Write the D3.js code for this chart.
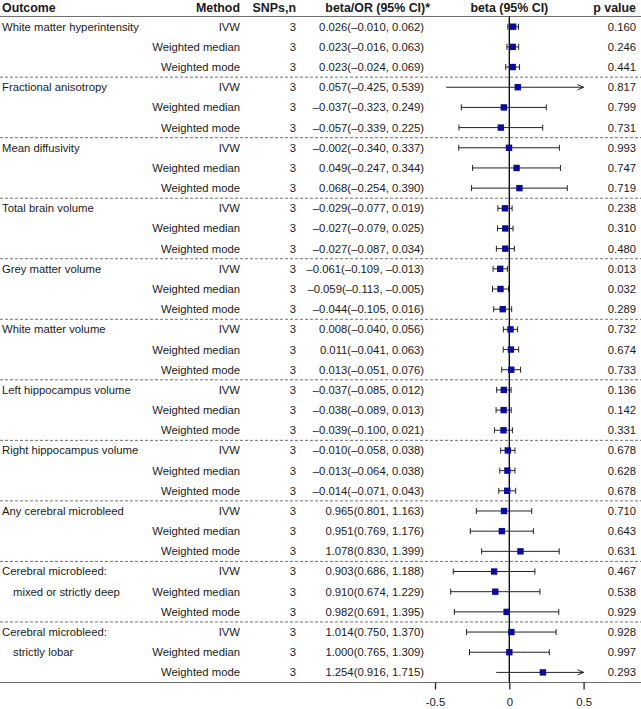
<!DOCTYPE html>
<html><head><meta charset="utf-8">
<script src="https://cdn.jsdelivr.net/npm/d3@7"></script>
<style>
html,body{margin:0;padding:0;background:#fff;}
svg{display:block;font-family:"Liberation Sans",Arial,sans-serif;}
</style>
</head><body>
<svg id="chart" width="641" height="709"></svg>
<script>
// ---- data ----
const outcomes = [
  ["White matter hyperintensity"],
  ["Fractional anisotropy"],
  ["Mean diffusivity"],
  ["Total brain volume"],
  ["Grey matter volume"],
  ["White matter volume"],
  ["Left hippocampus volume"],
  ["Right hippocampus volume"],
  ["Any cerebral microbleed"],
  ["Cerebral microbleed:", "mixed or strictly deep"],
  ["Cerebral microbleed:", "strictly lobar"]
];
const isOR = [false,false,false,false,false,false,false,false,true,true,true];
const methods = ["IVW", "Weighted median", "Weighted mode"];
const snps = [3,3,3, 3,3,3, 3,3,3, 3,3,3, 3,3,3, 3,3,3, 3,3,3, 3,3,3, 3,3,3, 3,3,3, 3,3,3];
const estimate = [0.026,0.023,0.023, 0.057,-0.037,-0.057, -0.002,0.049,0.068, -0.029,-0.027,-0.027,
  -0.061,-0.059,-0.044, 0.008,0.011,0.013, -0.037,-0.038,-0.039, -0.010,-0.013,-0.014,
  0.965,0.951,1.078, 0.903,0.910,0.982, 1.014,1.000,1.254];
const lower = [-0.010,-0.016,-0.024, -0.425,-0.323,-0.339, -0.340,-0.247,-0.254, -0.077,-0.079,-0.087,
  -0.109,-0.113,-0.105, -0.040,-0.041,-0.051, -0.085,-0.089,-0.100, -0.058,-0.064,-0.071,
  0.801,0.769,0.830, 0.686,0.674,0.691, 0.750,0.765,0.916];
const upper = [0.062,0.063,0.069, 0.539,0.249,0.225, 0.337,0.344,0.390, 0.019,0.025,0.034,
  -0.013,-0.005,0.016, 0.056,0.063,0.076, 0.012,0.013,0.021, 0.038,0.038,0.043,
  1.163,1.176,1.399, 1.188,1.229,1.395, 1.370,1.309,1.715];
const pvalues = [0.160,0.246,0.441, 0.817,0.799,0.731, 0.993,0.747,0.719, 0.238,0.310,0.480,
  0.013,0.032,0.289, 0.732,0.674,0.733, 0.136,0.142,0.331, 0.678,0.628,0.678,
  0.710,0.643,0.631, 0.467,0.538,0.929, 0.928,0.997,0.293];
const axisTicks = [-0.5, 0, 0.5];
const headers = ["Outcome","Method","SNPs,n","beta/OR (95% CI)*","beta (95% CI)","p value"];

// ---- layout ----
const W = 641, H = 709;
const svg = d3.select("#chart");
const bodyFont = 11.3, headFont = 12.4;
const x = d3.scaleLinear().domain([-0.5, 0.5]).range([435, 583.6]);
const nRows = estimate.length;
const y = d3.scaleLinear().domain([0, nRows - 1]).range([26.7, 672.4]);
const headerY = 7.5, headerLine = 16.5, bottomLine = 682.5;
const textCol = "#1a1a1a", ruleCol = "#707070";

const rows = d3.range(nRows).map(i => {
  const g = Math.floor(i / 3), m = i % 3;
  const t = isOR[g] ? Math.log : (v => v);
  return {i, g, m, est: estimate[i], lo: lower[i], hi: upper[i], p: pvalues[i], snp: snps[i],
    pe: t(estimate[i]), pl: t(lower[i]), ph: t(upper[i])};
});

// header
const hdr = svg.append("g").attr("font-weight", "bold").attr("font-size", headFont).attr("fill", textCol);
hdr.append("text").attr("x", 2).attr("y", headerY).attr("dy", "0.35em").text(headers[0]);
hdr.append("text").attr("x", 240).attr("y", headerY).attr("dy", "0.35em").attr("text-anchor", "end").text(headers[1]);
hdr.append("text").attr("x", 296).attr("y", headerY).attr("dy", "0.35em").attr("text-anchor", "end").text(headers[2]);
hdr.append("text").attr("x", 430).attr("y", headerY).attr("dy", "0.35em").attr("text-anchor", "end").text(headers[3]);
hdr.append("text").attr("x", x(0)).attr("y", headerY).attr("dy", "0.35em").attr("text-anchor", "middle").text(headers[4]);
hdr.append("text").attr("x", 636).attr("y", headerY).attr("dy", "0.35em").attr("text-anchor", "end").text(headers[5]);

// rules
svg.append("line").attr("x1", 0).attr("x2", W).attr("y1", headerLine).attr("y2", headerLine)
  .attr("stroke", ruleCol).attr("stroke-width", 1.2);
svg.append("line").attr("x1", 0).attr("x2", W).attr("y1", bottomLine).attr("y2", bottomLine)
  .attr("stroke", ruleCol).attr("stroke-width", 1.2);
for (let g = 1; g < outcomes.length; g++) {
  const yy = (y(3 * g - 1) + y(3 * g)) / 2;
  svg.append("line").attr("x1", 0).attr("x2", W).attr("y1", yy).attr("y2", yy)
    .attr("stroke", ruleCol).attr("stroke-width", 1).attr("stroke-dasharray", "3,2");
}

// text columns
const body = svg.append("g").attr("font-size", bodyFont).attr("fill", textCol);
outcomes.forEach((lines, g) => {
  lines.forEach((s, k) => {
    body.append("text").attr("x", k === 0 ? 2 : 13).attr("y", y(3 * g + k)).attr("dy", "0.35em").text(s);
  });
});
const f3 = d3.format(".3f");
const fmt = v => f3(v).replace("\u2212", "\u2013");
rows.forEach(r => {
  const yy = y(r.i);
  body.append("text").attr("x", 240).attr("y", yy).attr("dy", "0.35em").attr("text-anchor", "end").text(methods[r.m]);
  body.append("text").attr("x", 296).attr("y", yy).attr("dy", "0.35em").attr("text-anchor", "end").text(r.snp);
  body.append("text").attr("x", 424).attr("y", yy).attr("dy", "0.35em").attr("text-anchor", "end")
    .text(`${fmt(r.est)}(${fmt(r.lo)}, ${fmt(r.hi)})`);
  body.append("text").attr("x", 636).attr("y", yy).attr("dy", "0.35em").attr("text-anchor", "end").text(f3(r.p));
});

// zero line
svg.append("line").attr("x1", x(0)).attr("x2", x(0)).attr("y1", headerLine).attr("y2", bottomLine)
  .attr("stroke", "#000").attr("stroke-width", 1.3);

// CIs
const plot = svg.append("g");
const [dmin, dmax] = x.domain();
rows.forEach(r => {
  const yy = y(r.i);
  const lo = Math.max(r.pl, dmin), hi = Math.min(r.ph, dmax);
  const arrowR = r.ph > dmax, arrowL = r.pl < dmin;
  plot.append("line").attr("x1", x(lo)).attr("x2", x(hi)).attr("y1", yy).attr("y2", yy)
    .attr("stroke", "#222").attr("stroke-width", 1);
  if (!arrowR && !arrowL) {
    [lo, hi].forEach(v => plot.append("line").attr("x1", x(v)).attr("x2", x(v))
      .attr("y1", yy - 3).attr("y2", yy + 3).attr("stroke", "#222").attr("stroke-width", 1));
  }
  if (arrowR) {
    const xe = x(hi);
    plot.append("path").attr("d", `M${xe - 6},${yy - 2.6}L${xe},${yy}L${xe - 6},${yy + 2.6}`)
      .attr("fill", "none").attr("stroke", "#222").attr("stroke-width", 1);
  }
  if (arrowL) {
    const xs = x(lo);
    plot.append("path").attr("d", `M${xs + 6},${yy - 2.6}L${xs},${yy}L${xs + 6},${yy + 2.6}`)
      .attr("fill", "none").attr("stroke", "#222").attr("stroke-width", 1);
  }
  plot.append("rect").attr("x", x(r.pe) - 3.2).attr("y", yy - 3.2).attr("width", 6.4).attr("height", 6.4)
    .attr("fill", "#0c0c9c");
});

// axis
const axis = d3.axisBottom(x).tickValues(axisTicks).tickSize(7).tickPadding(8)
  .tickFormat(d => d === 0 ? "0" : String(d));
const ag = svg.append("g").attr("transform", `translate(0,${bottomLine})`).call(axis);
ag.select(".domain").remove();
ag.selectAll(".tick line").attr("stroke", "#222").attr("stroke-width", 1.3);
ag.selectAll(".tick text").attr("font-size", bodyFont).attr("fill", textCol)
  .attr("font-family", "Liberation Sans, Arial, sans-serif");
</script>
</body></html>
